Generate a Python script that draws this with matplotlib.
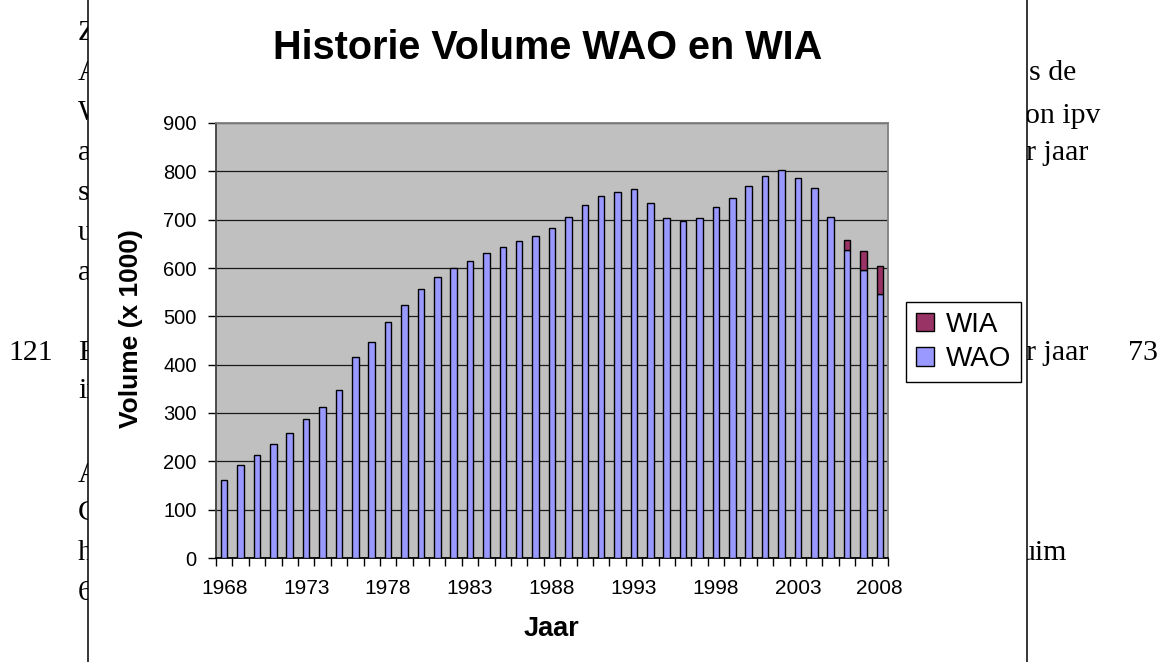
#!/usr/bin/env python3
"""
Historie Volume WAO en WIA - chart as it sits in the document page.
"""

import numpy as np
import matplotlib
matplotlib.use('Agg')
import matplotlib.pyplot as plt
from matplotlib.patches import Rectangle, Patch

# Data (x 1000)
years = list(range(1968, 2009))
wao = [161, 192, 214, 236, 259, 287, 312, 348, 415, 446,
       488, 524, 557, 582, 599, 615, 632, 644, 655, 666,
       683, 705, 730, 750, 758, 764, 735, 703, 697, 703,
       727, 744, 769, 791, 802, 786, 766, 705, 637, 596,
       546]
wia = [0] * 38 + [20, 39, 59]
label_years = [1968, 1973, 1978, 1983, 1988, 1993, 1998, 2003, 2008]

# Fragments of the document text around the chart (left column / right column)
left_lines = ['Zo', 'Al', 'We', 'al', 'so', 'ui', 'aa', 'Fa', 'in', '', 'Al', 'Co', 'he', '60']
left_base = [40, 80, 120, 160, 200, 240, 280, 360, 398, 440, 482, 520, 560, 600]
right_lines = [('s de', 80, 1029), ('on ipv', 123, 1025), ('r jaar', 160, 1026),
               ('r jaar', 360, 1026), ('73', 360, 1128), ('uim', 560, 1021)]

W, H = 1159, 662
fig = plt.figure(figsize=(W / 100, H / 100), dpi=100)
fig.patch.set_facecolor('white')

serif = 'Liberation Serif'
sans = ['Liberation Sans', 'DejaVu Sans']

def fy(py):
    return 1 - py / H

# background document text (drawn under the chart box)
for txt, yb in zip(left_lines, left_base):
    if txt:
        fig.text(78 / W, fy(yb), txt, family=serif, fontsize=21.5, va='baseline', zorder=-2)
fig.text(8 / W, fy(360), '121', family=serif, fontsize=21.5, va='baseline', zorder=-2)
for txt, yb, xp in right_lines:
    fig.text(xp / W, fy(yb), txt, family=serif, fontsize=21.5, va='baseline', ha='left', zorder=-2)

# white chart object with its left/right border
fig.patches.append(Rectangle((88 / W, -0.05), (1027 - 88) / W, 1.1, transform=fig.transFigure,
                             facecolor='white', edgecolor='black', linewidth=1.1, zorder=-1))

# plot area
ax = fig.add_axes([216 / W, 1 - 558 / H, (888 - 216) / W, (558 - 123) / H])
ax.set_facecolor('#C0C0C0')

wia_arr = np.array(wia)
mask = wia_arr > 0
ax.bar(years, wao, width=0.4, color='#9999FF', edgecolor='black', linewidth=1.0, zorder=3)
ax.bar(np.array(years)[mask], wia_arr[mask], width=0.4, bottom=np.array(wao)[mask],
       color='#993366', edgecolor='black', linewidth=1.0, zorder=3)

ax.set_xlim(years[0] - 0.5, years[-1] + 0.5)
ax.set_ylim(0, 900)
ax.set_yticks(range(0, 901, 100))
ax.set_xticks(label_years)
ax.set_xticks(np.arange(years[0] - 0.5, years[-1] + 1, 1), minor=True)
ax.tick_params(axis='x', which='major', length=0, pad=15, labelsize=15)
ax.tick_params(axis='x', which='minor', length=6, width=1, direction='out', color='black')
ax.tick_params(axis='y', length=6, width=1, direction='out', pad=8, labelsize=14.5)
for lab in ax.get_xticklabels() + ax.get_yticklabels():
    lab.set_family(sans)

ax.yaxis.grid(True, color='#1a1a1a', linewidth=0.9, zorder=1)
ax.set_axisbelow(True)

ax.spines['left'].set_color('#404040')
ax.spines['bottom'].set_color('black')
ax.spines['top'].set_color('#808080')
ax.spines['right'].set_color('#808080')
for s in ax.spines.values():
    s.set_linewidth(1.3)

# titles
fig.text(548 / W, fy(59), 'Historie Volume WAO en WIA', family=sans, fontsize=28.5,
         fontweight='bold', ha='center', va='baseline')
fig.text(131 / W, fy(329), 'Volume (x 1000)', family=sans, fontsize=19,
         fontweight='bold', rotation=90, ha='center', va='center')
fig.text(551 / W, fy(636), 'Jaar', family=sans, fontsize=19.5,
         fontweight='bold', ha='center', va='baseline')

# legend
handles = [Patch(facecolor='#993366', edgecolor='black', linewidth=1.0),
           Patch(facecolor='#9999FF', edgecolor='black', linewidth=1.0)]
leg = ax.legend(handles, ['WIA', 'WAO'], loc='upper left',
                bbox_to_anchor=(906 / W, fy(302)), bbox_transform=fig.transFigure,
                prop={'family': sans, 'size': 20}, frameon=True, fancybox=False,
                framealpha=1, edgecolor='black', handlelength=0.65, handleheight=0.65,
                handletextpad=0.45, labelspacing=0.3, borderpad=0.35, borderaxespad=0)
leg.get_frame().set_linewidth(1.0)

plt.savefig('out.png', dpi=100)
